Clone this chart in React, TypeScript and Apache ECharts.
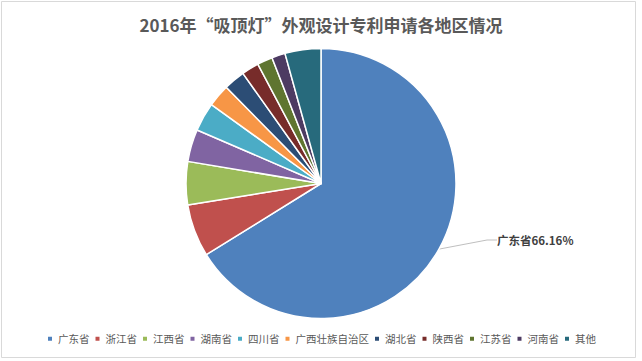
import React, { useEffect, useRef } from "react";
import * as echarts from "echarts";

const titleText = "2016年“吸顶灯”外观设计专利申请各地区情况";
const categories = [
  "广东省",
  "浙江省",
  "江西省",
  "湖南省",
  "四川省",
  "广西壮族自治区",
  "湖北省",
  "陕西省",
  "江苏省",
  "河南省",
  "其他",
];
const shares = [66.16, 6.3, 5.16, 3.87, 3.44, 2.69, 2.56, 2.07, 1.84, 1.61, 4.3];
const colors = [
  "#4F81BD",
  "#C0504D",
  "#9BBB59",
  "#8064A2",
  "#4BACC6",
  "#F79646",
  "#2C4D75",
  "#772C2A",
  "#5F7530",
  "#4D3B62",
  "#276A7C",
];
const labelledIndex = 0;

export default function App() {
  const ref = useRef<HTMLDivElement>(null);
  useEffect(() => {
    if (!ref.current) return;
    const chart = echarts.init(ref.current, null, { renderer: "svg" });
    const font = '"Noto Sans CJK SC", "Microsoft YaHei", sans-serif';
    chart.setOption({
      animation: false,
      backgroundColor: "#ffffff",
      color: colors,
      textStyle: { fontFamily: font },
      title: {
        text: titleText,
        left: "center",
        top: 11,
        textStyle: {
          fontFamily: font,
          fontSize: 17,
          fontWeight: "bold",
          color: "#595959",
        },
      },
      graphic: [
        {
          type: "rect",
          shape: { x: 1.5, y: 1.5, width: 634, height: 356 },
          style: { fill: "none", stroke: "#d9d9d9", lineWidth: 1 },
          silent: true,
        },
      ],
      legend: {
        bottom: 12,
        left: "center",
        icon: "rect",
        itemWidth: 6,
        itemHeight: 6,
        itemGap: 4,
        textStyle: { fontFamily: font, fontSize: 10.5, color: "#595959" },
        data: categories,
      },
      series: [
        {
          type: "pie",
          center: [321, 183.5],
          radius: 135,
          startAngle: 90,
          clockwise: true,
          itemStyle: { borderColor: "#ffffff", borderWidth: 1.5 },
          label: { show: false },
          labelLine: { show: false },
          labelLayout: (params: any) =>
            params.dataIndex === labelledIndex
              ? { x: 497, y: 240, align: "left", verticalAlign: "middle" }
              : {},
          data: categories.map((name, i) => ({
            name,
            value: shares[i],
            label:
              i === labelledIndex
                ? {
                    show: true,
                    position: "outside",
                    formatter: (p: any) => p.name + p.value.toFixed(2) + "%",
                    fontFamily: font,
                    fontSize: 11.5,
                    fontWeight: "bold",
                    color: "#404040",
                  }
                : { show: false },
            labelLine:
              i === labelledIndex
                ? {
                    show: true,
                    length: 10,
                    length2: 10,
                    lineStyle: { color: "#bfbfbf", width: 1 },
                  }
                : { show: false },
          })),
        },
      ],
    });
    return () => chart.dispose();
  }, []);
  return (
    <div
      ref={ref}
      style={{ position: "fixed", left: 0, top: 0, width: 642, height: 361 }}
    />
  );
}
